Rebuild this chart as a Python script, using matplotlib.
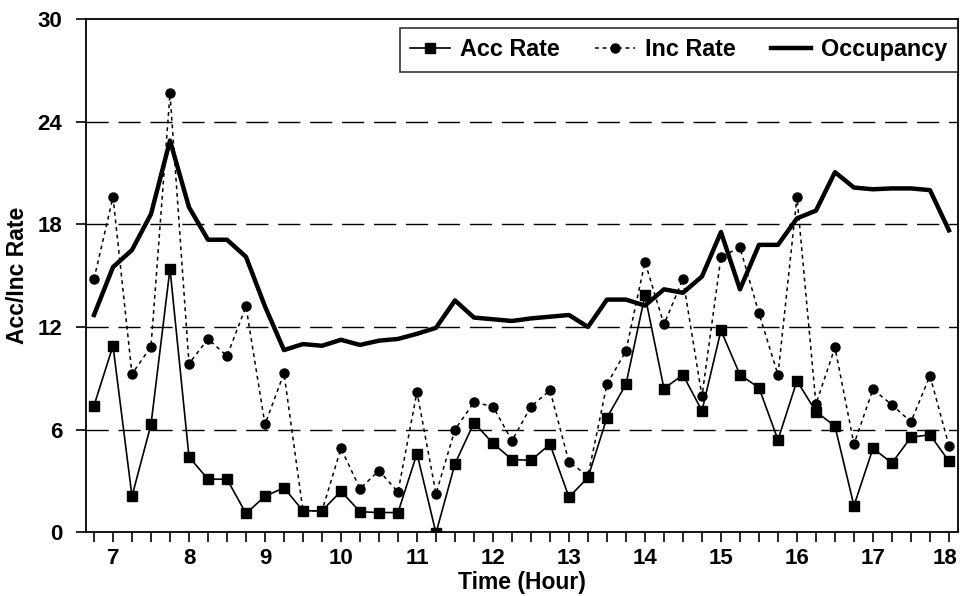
import numpy as np
import matplotlib
matplotlib.use("Agg")
import matplotlib.pyplot as plt
import matplotlib.transforms as mtransforms

plt.rcParams['font.family'] = ['Liberation Sans', 'DejaVu Sans']
plt.rcParams['font.weight'] = 'bold'

# quarter-hour time stamps, 6:45 -> 18:00
time_h = np.arange(6.75, 18.01, 0.25)

acc_rate = [7.4, 10.9, 2.1, 6.3, 15.4, 4.4, 3.1, 3.1, 1.1, 2.1, 2.6, 1.25,
            1.25, 2.4, 1.2, 1.15, 1.15, 4.6, -0.05, 4.0, 6.4, 5.2, 4.25, 4.2,
            5.15, 2.05, 3.2, 6.7, 8.65, 13.85, 8.4, 9.2, 7.1, 11.8, 9.2, 8.45,
            5.4, 8.85, 7.05, 6.2, 1.55, 4.9, 4.05, 5.55, 5.7, 4.15]

inc_rate = [14.8, 19.6, 9.25, 10.85, 25.65, 9.85, 11.3, 10.3, 13.2, 6.3,
            9.3, 1.25, 1.25, 4.9, 2.55, 3.6, 2.35, 8.2, 2.25, 6.0, 7.6, 7.35,
            5.35, 7.35, 8.3, 4.1, 3.3, 8.65, 10.6, 15.8, 12.15, 14.8, 7.95,
            16.1, 16.65, 12.8, 9.2, 19.6, 7.5, 10.8, 5.15, 8.35, 7.45, 6.45,
            9.15, 5.05]

occupancy = [12.7, 15.5, 16.5, 18.6, 22.9, 19.0, 17.1, 17.1, 16.1, 13.2,
             10.65, 11.0, 10.9, 11.25, 10.95, 11.2, 11.3, 11.6, 11.95, 13.55,
             12.55, 12.45, 12.35, 12.5, 12.6, 12.7, 12.0, 13.6, 13.6, 13.25,
             14.2, 14.0, 14.95, 17.55, 14.2, 16.8, 16.8, 18.35, 18.8, 21.05,
             20.15, 20.05, 20.1, 20.1, 20.0, 17.65]

hour_labels = [str(h) for h in range(7, 19)]

fig = plt.figure(figsize=(9.6, 5.96), dpi=100)
ax = fig.add_axes([0.0896, 0.107, 0.9084, 0.861])

# dashed horizontal guide lines
for yv in [6, 12, 18, 24]:
    ax.axhline(yv, color='black', lw=1.0, linestyle=(0, (16, 7)), zorder=1)

ax.plot(time_h, acc_rate, color='black', lw=1.2, marker='s', markersize=6.5,
        label='Acc Rate', zorder=3)
ax.plot(time_h, inc_rate, color='black', lw=1.1, linestyle=(0, (2.5, 2.5)),
        marker='o', markersize=6.5, label='Inc Rate', zorder=3)
ax.plot(time_h, occupancy, color='black', lw=3.2, label='Occupancy', zorder=2)

ax.set_xlim(6.645, 18.12)
ax.set_ylim(0, 30)
ax.set_yticks([0, 6, 12, 18, 24, 30])
ax.set_xticks(time_h)
ax.set_xticklabels([hour_labels[int(t) - 7] if t == int(t) else '' for t in time_h])
ax.tick_params(axis='both', direction='out', length=7, width=1.2,
               labelsize=16)
ax.tick_params(axis='x', pad=4)
ax.tick_params(axis='y', pad=10)
for lab in ax.get_xticklabels() + ax.get_yticklabels():
    lab.set_fontweight('bold')

# keep the last hour label inside the figure edge
last = ax.get_xticklabels()[-1]
last.set_transform(last.get_transform() +
                   mtransforms.ScaledTranslation(-4 / 100, 0, fig.dpi_scale_trans))

for s in ax.spines.values():
    s.set_linewidth(1.3)

ax.set_xlabel('Time (Hour)', fontsize=16.5, fontweight='bold', labelpad=2)
ax.set_ylabel('Acc/Inc Rate', fontsize=16.5, fontweight='bold', labelpad=6)

leg = ax.legend(loc='upper right', bbox_to_anchor=(1.0, 0.983), ncol=3,
                fontsize=16.8, frameon=True, fancybox=False, borderaxespad=0,
                handlelength=1.7, handletextpad=0.45, columnspacing=1.5,
                borderpad=0.45)
leg.get_frame().set_edgecolor('black')
leg.get_frame().set_linewidth(1.2)
for t in leg.get_texts():
    t.set_fontweight('bold')

fig.savefig('out.png', dpi=100)
